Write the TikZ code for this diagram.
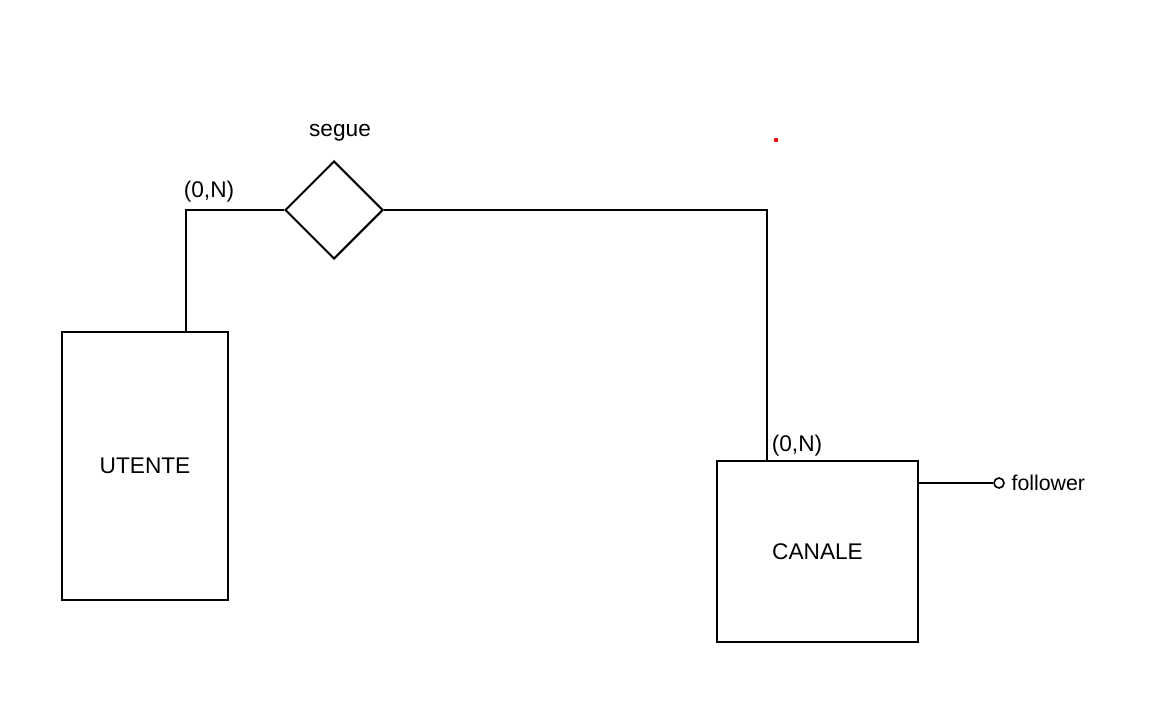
\documentclass[tikz,border=0pt]{standalone}
\usepackage{fontspec}
\setmainfont{Liberation Sans}
\usetikzlibrary{shapes.geometric,positioning}

\begin{document}
\begin{tikzpicture}[x=0.75pt,y=-0.75pt,line width=1.5pt,
  entity/.style={draw,rectangle,inner sep=0pt},
  relation/.style={draw,diamond,minimum width=73.5pt,minimum height=73.5pt,inner sep=0pt},
  attr/.style={draw,circle,minimum size=7.5pt,inner sep=0pt,line width=1.2pt},
  font=\fontsize{17}{20}\selectfont]

\useasboundingbox (0,0) rectangle (1153,706);

\node[entity,minimum width=124.5pt,minimum height=201pt]     (U) at (145,466)     {UTENTE};
\node[entity,minimum width=150.75pt,minimum height=135.75pt] (C) at (817.5,551.5) {CANALE};
\node[relation]   (S)    at (334,210) {};
\node             (Slab) at (340,133) {segue};
\node[attr]       (F)    at (999,483) {};
\node[right=1pt of F,font=\fontsize{16}{19}\selectfont] (Flab) {follower};

\node (cU) at (209,192) {(0,N)};
\node (cC) at (797,446) {(0,N)};

\draw ([xshift=30.75pt]U.north) |- (S.west);
\draw (S.east) -| ([xshift=-37.875pt]C.north);
\draw (C.east |- F) -- (F.west);

\fill[red] (776,140) circle (1.7pt);
\end{tikzpicture}
\end{document}
